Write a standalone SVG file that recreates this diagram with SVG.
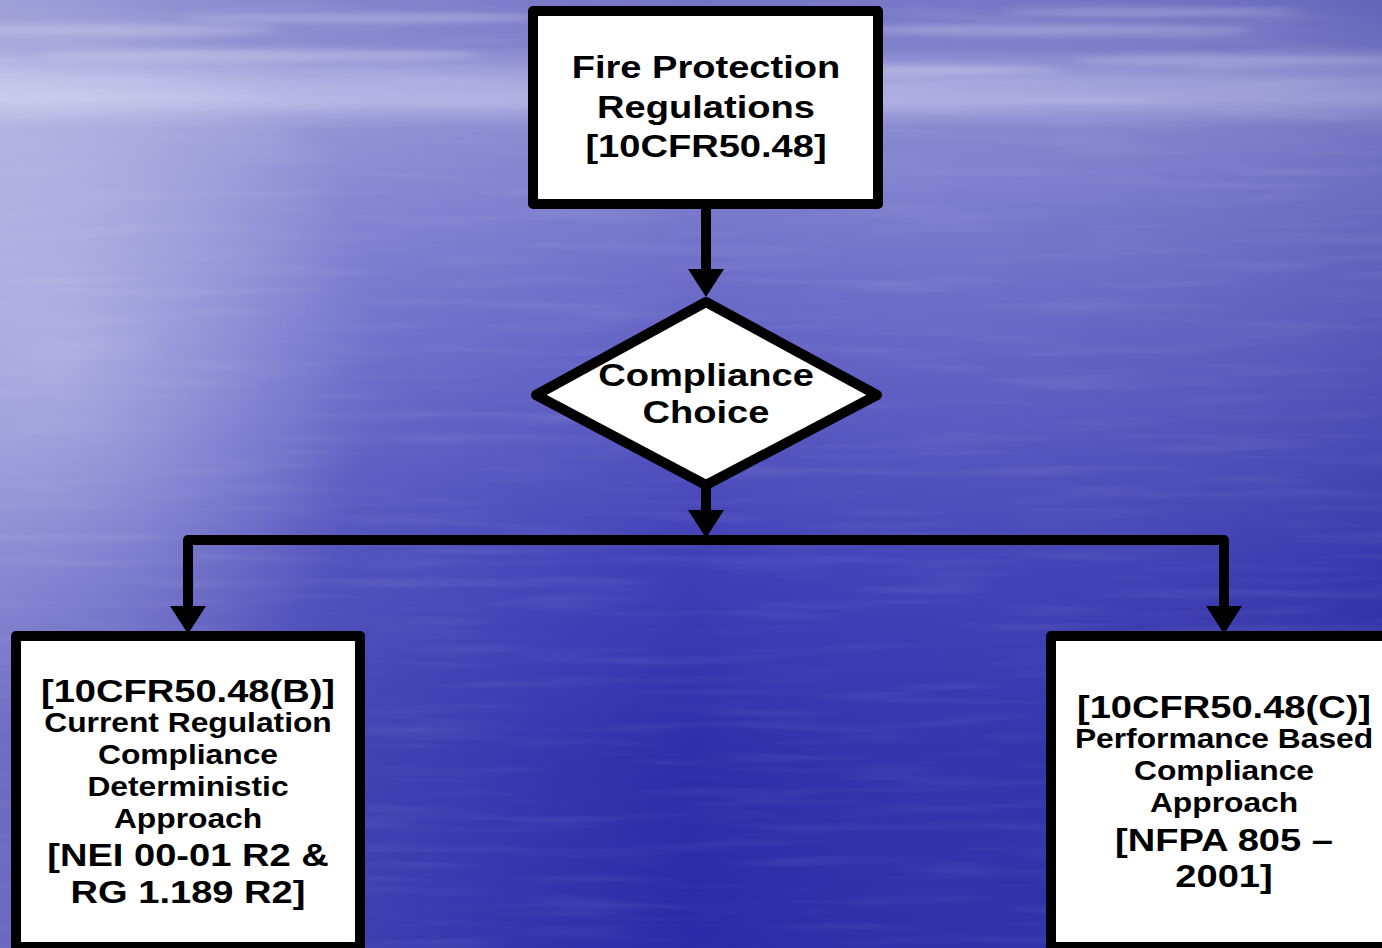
<svg xmlns="http://www.w3.org/2000/svg" width="1382" height="948" viewBox="0 0 1382 948">
  <defs>
    <style>
      .box { fill: #ffffff; stroke: #000000; stroke-width: 10; stroke-linejoin: round; }
      .conn { fill: none; stroke: #000000; stroke-width: 10; stroke-linejoin: round; }
      .big { font-family: "Liberation Sans", Arial, sans-serif; font-weight: bold; font-size: 32px; fill: #000000; text-anchor: middle; }
      .small { font-family: "Liberation Sans", Arial, sans-serif; font-weight: bold; font-size: 26.7px; fill: #000000; text-anchor: middle; }
    </style>
    <linearGradient id="bgV" x1="0" y1="0" x2="0" y2="1">
      <stop offset="0" stop-color="#7474c6"/>
      <stop offset="0.05" stop-color="#7e7ecb"/>
      <stop offset="0.085" stop-color="#a4a4de"/>
      <stop offset="0.105" stop-color="#aeaee2"/>
      <stop offset="0.135" stop-color="#8686d0"/>
      <stop offset="0.35" stop-color="#6464c6"/>
      <stop offset="0.6" stop-color="#3e3eb6"/>
      <stop offset="0.8" stop-color="#2e2eaa"/>
      <stop offset="1" stop-color="#2a2aa8"/>
    </linearGradient>
    <linearGradient id="bgH" x1="0" y1="0" x2="1" y2="0">
      <stop offset="0" stop-color="#ffffff" stop-opacity="0.30"/>
      <stop offset="0.25" stop-color="#ffffff" stop-opacity="0.10"/>
      <stop offset="0.5" stop-color="#ffffff" stop-opacity="0"/>
      <stop offset="1" stop-color="#101070" stop-opacity="0.15"/>
    </linearGradient>
    <radialGradient id="glow" cx="0.5" cy="0.5" r="0.5">
      <stop offset="0" stop-color="#ffffff" stop-opacity="0.30"/>
      <stop offset="1" stop-color="#ffffff" stop-opacity="0"/>
    </radialGradient>
    <filter id="blur" x="-20%" y="-50%" width="140%" height="200%">
      <feGaussianBlur stdDeviation="8 3"/>
    </filter>
    <filter id="ripple" x="0" y="0" width="100%" height="100%">
      <feTurbulence type="fractalNoise" baseFrequency="0.006 0.09" numOctaves="2" seed="4" result="n"/>
      <feColorMatrix type="matrix" values="0 0 0 0 1  0 0 0 0 1  0 0 0 0 1  0 0 0 1.6 -0.75"/>
    </filter>
    <marker id="ah" markerUnits="userSpaceOnUse" viewBox="0 0 28 36" markerWidth="28" markerHeight="36" refX="0" refY="18" orient="auto" overflow="visible">
      <path d="M0,0 L28,18 L0,36 Z" fill="#000000"/>
    </marker>
  </defs>

  <g id="background">
    <rect x="0" y="0" width="1382" height="948" fill="url(#bgV)"/>
    <rect x="0" y="0" width="1382" height="948" fill="url(#bgH)"/>
    <ellipse cx="60" cy="360" rx="320" ry="380" fill="url(#glow)"/>
    <g filter="url(#blur)" fill="#ffffff" opacity="0.22">
      <ellipse cx="120" cy="30" rx="160" ry="6"/>
      <ellipse cx="360" cy="18" rx="180" ry="5"/>
      <ellipse cx="260" cy="55" rx="220" ry="6"/>
      <ellipse cx="1050" cy="30" rx="200" ry="6"/>
      <ellipse cx="1250" cy="60" rx="180" ry="5"/>
      <ellipse cx="900" cy="70" rx="160" ry="5"/>
      <ellipse cx="1150" cy="12" rx="150" ry="4"/>
    </g>
    <rect x="0" y="0" width="1382" height="948" filter="url(#ripple)" opacity="0.10"/>
  </g>

  <g id="connectors">
    <path class="conn" d="M706,208 V269" marker-end="url(#ah)"/>
    <path class="conn" d="M706,488 V510" marker-end="url(#ah)"/>
    <path class="conn" d="M706,540 H188 V606" marker-end="url(#ah)"/>
    <path class="conn" d="M706,540 H1224 V606" marker-end="url(#ah)"/>
  </g>

  <g id="node-regulations">
    <rect class="box" x="533" y="11" width="345" height="193"/>
    <g transform="translate(706 0) scale(1.19 1)">
      <text class="big" x="0" y="78">Fire Protection</text>
      <text class="big" x="0" y="118">Regulations</text>
      <text class="big" x="0" y="157">[10CFR50.48]</text>
    </g>
  </g>

  <g id="node-choice">
    <polygon class="box" points="706,302 877,395 706,485 536,395"/>
    <g transform="translate(706 0) scale(1.19 1)">
      <text class="big" x="0" y="386">Compliance</text>
      <text class="big" x="0" y="423">Choice</text>
    </g>
  </g>

  <g id="node-deterministic">
    <rect class="box" x="16" y="636" width="344" height="311"/>
    <g transform="translate(188 0) scale(1.19 1)">
      <text class="big" x="0" y="702">[10CFR50.48(B)]</text>
      <text class="small" x="0" y="732">Current Regulation</text>
      <text class="small" x="0" y="764">Compliance</text>
      <text class="small" x="0" y="796">Deterministic</text>
      <text class="small" x="0" y="828">Approach</text>
      <text class="big" x="0" y="866">[NEI 00-01 R2 &amp;</text>
      <text class="big" x="0" y="903">RG 1.189 R2]</text>
    </g>
  </g>

  <g id="node-performance">
    <rect class="box" x="1051" y="636" width="345" height="311"/>
    <g transform="translate(1224 0) scale(1.19 1)">
      <text class="big" x="0" y="718">[10CFR50.48(C)]</text>
      <text class="small" x="0" y="748">Performance Based</text>
      <text class="small" x="0" y="780">Compliance</text>
      <text class="small" x="0" y="812">Approach</text>
      <text class="big" x="0" y="851">[NFPA 805 –</text>
      <text class="big" x="0" y="887">2001]</text>
    </g>
  </g>
</svg>
